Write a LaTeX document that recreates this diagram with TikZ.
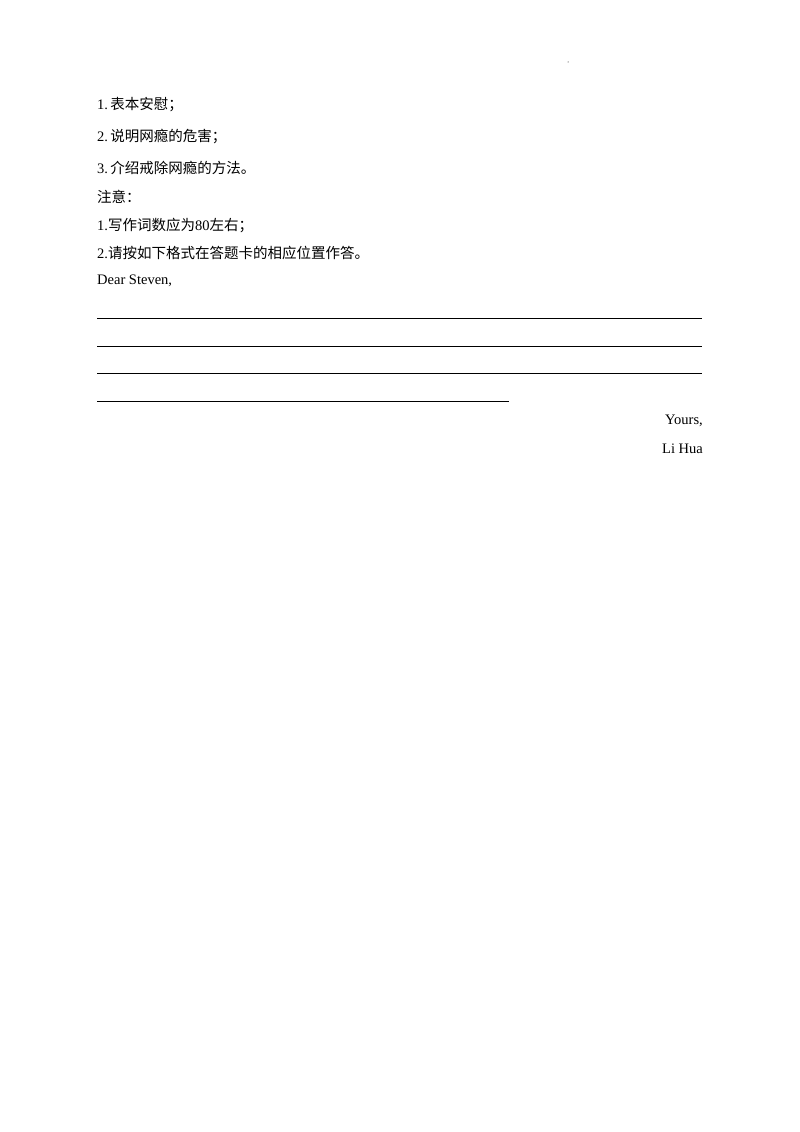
\documentclass[tikz,border=0pt]{standalone}
\usepackage{fontspec}
\setmainfont{Liberation Serif}
\newfontfamily\cjk{Noto Sans CJK SC}
\begin{document}
\begin{tikzpicture}[x=1pt,y=-1pt,
  t/.style={anchor=west,inner sep=0pt,font=\fontsize{14.5}{16}\selectfont},
  r/.style={anchor=east,inner sep=0pt,font=\fontsize{14.5}{16}\selectfont},
  rule/.style={line width=0.7pt}]
\useasboundingbox (0,0) rectangle (800,1132);
\fill (568,62) circle (0.5);
\node[t] (a) at (97,105) {1.\,{\cjk 表本安慰；}};
\node[t] (b) at (97,137) {2.\,{\cjk 说明网瘾的危害；}};
\node[t] (c) at (97,168) {3.\,{\cjk 介绍戒除网瘾的方法。}};
\node[t] (d) at (97,197) {{\cjk 注意：}};
\node[t] (e) at (97,226) {1.{\cjk 写作词数应为}80{\cjk 左右；}};
\node[t] (f) at (97,253) {2.{\cjk 请按如下格式在答题卡的相应位置作答。}};
\node[t] (g) at (97,281) {Dear Steven,};
\coordinate (l1a) at (97,318); \coordinate (l1b) at (702,318);
\coordinate (l2a) at (97,346); \coordinate (l2b) at (702,346);
\coordinate (l3a) at (97,373); \coordinate (l3b) at (702,373);
\coordinate (l4a) at (97,401); \coordinate (l4b) at (509,401);
\draw[rule] (l1a) -- (l1b);
\draw[rule] (l2a) -- (l2b);
\draw[rule] (l3a) -- (l3b);
\draw[rule] (l4a) -- (l4b);
\node[r] (y) at (703,421) {Yours,};
\node[r] (h) at (703,449) {Li Hua};
\end{tikzpicture}
\end{document}
